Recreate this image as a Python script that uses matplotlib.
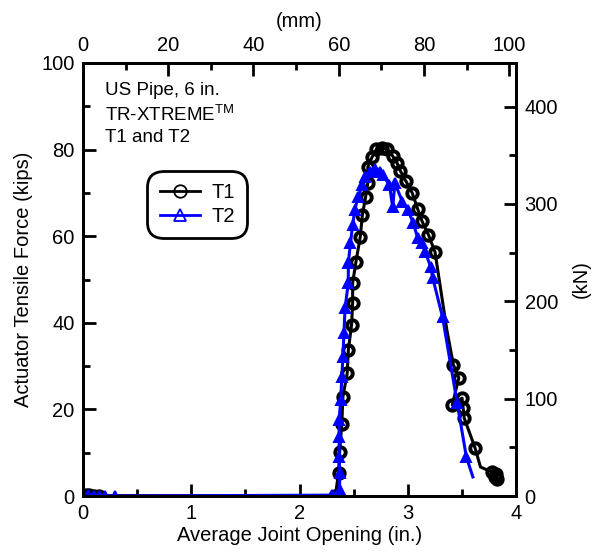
import numpy as np
import matplotlib
matplotlib.use("Agg")
import matplotlib.pyplot as plt
from matplotlib.lines import Line2D
from matplotlib.ticker import MultipleLocator

plt.rcParams['font.family'] = ['Liberation Sans', 'DejaVu Sans']
plt.rcParams['mathtext.fontset'] = 'custom'
plt.rcParams['mathtext.rm'] = 'Liberation Sans'

# --- data (in., kips) ---
t1_x = [0.0, 0.03, 0.06, 0.10, 0.15, 2.33, 2.36, 2.37, 2.39, 2.40, 2.44, 2.45, 2.48,
        2.49, 2.49, 2.52, 2.56, 2.58, 2.61, 2.63, 2.63, 2.67, 2.71, 2.76, 2.81, 2.86,
        2.90, 2.93, 2.98, 3.04, 3.09, 3.13, 3.19, 3.25, 3.36, 3.42, 3.47, 3.41, 3.50,
        3.51, 3.52, 3.62, 3.67, 3.78, 3.80, 3.82, 3.81]
t1_y = [0.0, 0.3, 0.2, 0.1, 0.1, 0.0, 5.3, 10.2, 16.6, 22.9, 28.4, 33.7, 39.5,
        44.6, 49.2, 54.0, 59.8, 64.9, 69.1, 72.3, 76.0, 78.3, 80.1, 80.4, 80.1, 78.5,
        76.9, 75.1, 72.8, 70.0, 66.3, 63.5, 60.3, 56.4, 38.3, 30.3, 27.3, 21.0, 22.6,
        20.3, 18.0, 11.1, 6.7, 5.5, 4.5, 4.0, 5.0]
t1_nomark = [34, 42]

t2_x = [0.0, 0.05, 0.10, 0.15, 0.20, 0.30, 2.30, 2.37, 2.37, 2.365, 2.365, 2.365, 2.38,
        2.39, 2.40, 2.41, 2.42, 2.45, 2.45, 2.47, 2.49, 2.51, 2.54, 2.58, 2.60, 2.65,
        2.70, 2.74, 2.77, 2.83, 2.86, 2.88, 2.95, 3.00, 3.05, 3.09, 3.13, 3.16, 3.21,
        3.23, 3.32, 3.455, 3.54, 3.60]
t2_y = [0.0, 0.2, 0.1, 0.1, 0.1, 0.0, 0.2, 1.4, 5.3, 9.0, 13.6, 17.6, 22.2,
        27.5, 32.1, 37.6, 43.4, 49.2, 53.8, 58.4, 62.6, 66.1, 69.1, 71.8, 73.7, 74.8,
        75.5, 74.8, 74.1, 71.8, 66.7, 72.3, 67.9, 66.1, 63.0, 59.6, 58.4, 56.4, 52.9,
        50.3, 41.3, 21.5, 9.0, 4.4]
t2_nomark = [43]

IN_TO_MM = 25.4
KIP_TO_KN = 4.448
FS = 14.5


def marks(n, skip):
    return [i for i in range(n) if i not in skip]


def style_ticks(a, **kw):
    a.tick_params(which='both', direction='in', labelsize=FS, width=2, pad=6, **kw)
    a.tick_params(which='major', length=9)
    a.tick_params(which='minor', length=5)


fig = plt.figure(figsize=(5.92, 5.59), dpi=100)
ax = fig.add_axes([0.140, 0.1127, 0.732, 0.7746])

ax.plot(t1_x, t1_y, color='black', lw=2.2, marker='o', ms=7.5, mfc='none', mew=2.8,
        mec='black', markevery=marks(len(t1_x), t1_nomark), zorder=3)
ax.plot(t2_x, t2_y, color='blue', lw=2.2, marker='^', ms=7, mfc='blue', mew=1.4,
        mec='blue', markevery=marks(len(t2_x), t2_nomark), zorder=4)

ax.set_xlim(0, 4)
ax.set_ylim(0, 100)
ax.xaxis.set_major_locator(MultipleLocator(1))
ax.xaxis.set_minor_locator(MultipleLocator(0.5))
ax.yaxis.set_major_locator(MultipleLocator(20))
ax.yaxis.set_minor_locator(MultipleLocator(10))
ax.set_xlabel("Average Joint Opening (in.)", fontsize=FS, labelpad=2)
ax.set_ylabel("Actuator Tensile Force (kips)", fontsize=FS, labelpad=6)
for s in ax.spines.values():
    s.set_linewidth(2)
style_ticks(ax)

# top axis in mm
top = ax.twiny()
top.set_xlim(0, 4 * IN_TO_MM)
top.xaxis.set_major_locator(MultipleLocator(20))
top.xaxis.set_minor_locator(MultipleLocator(10))
style_ticks(top)
top.set_xlabel("(mm)", fontsize=FS, labelpad=6)

# right axis in kN
right = ax.twinx()
right.set_ylim(0, 100 * KIP_TO_KN)
right.yaxis.set_major_locator(MultipleLocator(100))
right.yaxis.set_minor_locator(MultipleLocator(50))
style_ticks(right)
right.set_ylabel("(kN)", fontsize=FS, labelpad=10)
for a in (top, right):
    for s in a.spines.values():
        s.set_linewidth(2)

ax.text(0.05, 0.955, "US Pipe, 6 in.\nTR-XTREME$^{\\mathrm{TM}}$\nT1 and T2",
        transform=ax.transAxes, fontsize=13.5, va='top', ha='left', linespacing=1.3)

handles = [
    Line2D([], [], color='black', lw=2, marker='o', ms=9, mfc='none', mec='black', mew=1.3),
    Line2D([], [], color='blue', lw=2, marker='^', ms=9, mfc='none', mec='blue', mew=1.3),
]
leg = right.legend(handles, ["T1", "T2"], loc='upper left', bbox_to_anchor=(0.135, 0.765),
                   bbox_transform=ax.transAxes, fontsize=FS, frameon=True, fancybox=True,
                   framealpha=1, handlelength=2.0, borderpad=0.4, labelspacing=0.25,
                   handletextpad=0.6)
frame = leg.get_frame()
frame.set_edgecolor('black')
frame.set_linewidth(2)
frame.set_boxstyle('round,pad=0.2,rounding_size=0.8')

fig.savefig("out.png", dpi=100)
